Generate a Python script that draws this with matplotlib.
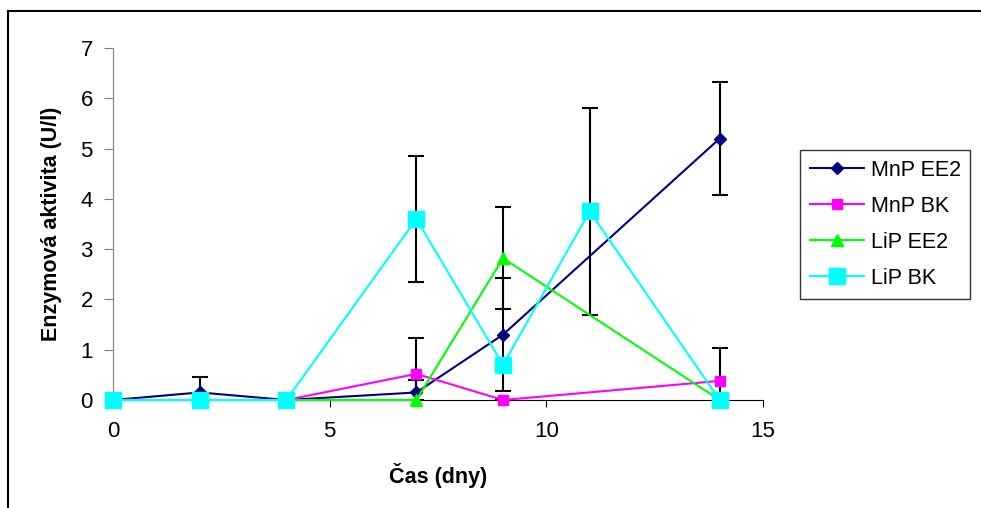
import matplotlib
matplotlib.use('Agg')
import matplotlib.pyplot as plt
from matplotlib.lines import Line2D

plt.rcParams['font.family'] = ['Liberation Sans', 'DejaVu Sans']

# data
dny = [0, 2, 4, 7, 9, 14]
mnp_ee2 = [0, 0.15, 0, 0.15, 1.3, 5.2]
mnp_ee2_err = [0, 0.3, 0, 0.25, 1.12, 1.12]
mnp_bk = [0, 0, 0, 0.52, 0, 0.38]
mnp_bk_err = [0, 0, 0, 0.72, 0, 0.65]
lip_ee2 = [0, 0, 0, 0, 2.82, 0]
lip_ee2_err = [0, 0, 0, 0, 1.02, 0]
dny_lip_bk = [0, 2, 4, 7, 9, 11, 14]
lip_bk = [0, 0, 0, 3.6, 0.7, 3.75, 0]
lip_bk_err = [0, 0, 0, 1.25, 0, 2.05, 0]

fig = plt.figure(figsize=(9.81, 5.08), dpi=100)
ax = fig.add_axes([0.1152, 0.2126, 0.6626, 0.6929])

series = [
    (dny, mnp_ee2, mnp_ee2_err, '#000080', 'D', 6.5, 'MnP EE2'),
    (dny, mnp_bk, mnp_bk_err, '#FF00FF', 's', 7, 'MnP BK'),
    (dny, lip_ee2, lip_ee2_err, '#00FF00', '^', 9, 'LiP EE2'),
    (dny_lip_bk, lip_bk, lip_bk_err, '#00FFFF', 's', 12, 'LiP BK'),
]

handles = []
for x, y, e, c, m, ms, lab in series:
    ax.errorbar(x, y, yerr=e, fmt='none', ecolor='black', elinewidth=1.5,
                capsize=6, capthick=1.5, zorder=1)
    ax.plot(x, y, color=c, marker=m, markersize=ms, linewidth=1.5,
            clip_on=False, zorder=3)
    handles.append(Line2D([], [], color=c, marker=m, markersize=ms,
                          linewidth=1.5, label=lab))

ax.set_xlim(0, 15)
ax.set_ylim(0, 7)
ax.set_xticks([0, 5, 10, 15])
ax.set_yticks(range(0, 8))
ax.spines['top'].set_visible(False)
ax.spines['right'].set_visible(False)
ax.spines['left'].set_color('#808080')
ax.tick_params(axis='both', labelsize=16, direction='out')
ax.tick_params(axis='y', colors='#808080', labelcolor='black', length=6.5, pad=8)
ax.tick_params(axis='x', length=5, pad=10)

ax.set_xlabel('Čas (dny)', fontsize=15.5, fontweight='bold', labelpad=15)
ax.set_ylabel('Enzymová aktivita (U/l)', fontsize=15.5, fontweight='bold', labelpad=13)

leg = fig.legend(handles=handles, loc='upper left',
                 bbox_to_anchor=(800 / 981, 1 - 150 / 508),
                 fontsize=15.5, frameon=True, fancybox=False,
                 edgecolor='black', handlelength=2.5, borderpad=0.45,
                 labelspacing=0.7, handletextpad=0.33, borderaxespad=0)
leg.get_frame().set_linewidth(1.0)

# outer border (top and left only)
fig.add_artist(Line2D([8 / 981, 8 / 981], [0, 1 - 11 / 508],
                      transform=fig.transFigure, color='black', linewidth=1.5))
fig.add_artist(Line2D([8 / 981, 1], [1 - 11 / 508, 1 - 11 / 508],
                      transform=fig.transFigure, color='black', linewidth=1.5))

fig.savefig('out.png', dpi=100)
